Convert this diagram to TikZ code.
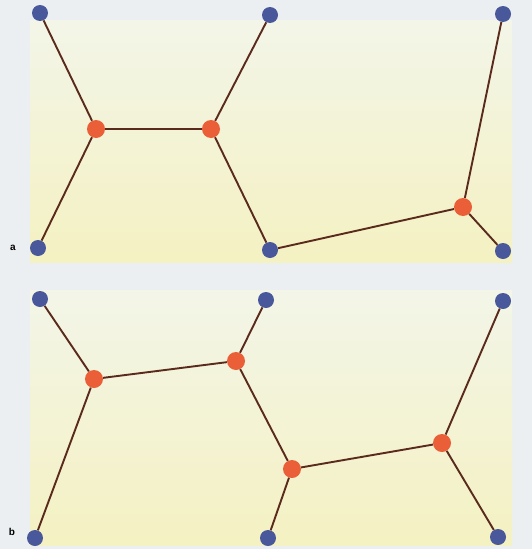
\documentclass[tikz,border=0pt]{standalone}
\usepackage{fontspec}
\setmainfont{Liberation Sans}
\definecolor{pagebg}{HTML}{ECEFF2}
\definecolor{paneltop}{HTML}{F3F5E8}
\definecolor{panelbot}{HTML}{F4F1C2}
\definecolor{termc}{HTML}{48589A}
\definecolor{steinc}{HTML}{EA5F38}
\definecolor{edgec}{HTML}{5A2A1C}
\tikzset{
  term/.style={circle, fill=termc, minimum size=16pt, inner sep=0pt},
  stein/.style={circle, fill=steinc, minimum size=18pt, inner sep=0pt},
  edge/.style={draw=edgec, line width=1.9pt},
  lbl/.style={font=\bfseries\fontsize{10}{10}\selectfont, inner sep=0pt}
}
\begin{document}
\begin{tikzpicture}[x=1pt,y=-1pt]
\useasboundingbox (0,0) rectangle (532,549);
\fill[pagebg] (0,0) rectangle (532,549);
\shade[top color=paneltop, bottom color=panelbot] (30,20) rectangle (512,262);
\shade[top color=paneltop, bottom color=panelbot] (30,290) rectangle (512,545);
% panel a
\node[term] (a1) at (40,13) {};
\node[term] (a2) at (270,15) {};
\node[term] (a3) at (503,14) {};
\node[term] (a4) at (38,248) {};
\node[term] (a5) at (270,250) {};
\node[term] (a6) at (503,251) {};
\node[stein] (as1) at (96,129) {};
\node[stein] (as2) at (211,129) {};
\node[stein] (as3) at (463,207) {};
\draw[edge] (a1) -- (as1);
\draw[edge] (as1) -- (as2);
\draw[edge] (as1) -- (a4);
\draw[edge] (as2) -- (a2);
\draw[edge] (as2) -- (a5);
\draw[edge] (a5) -- (as3);
\draw[edge] (as3) -- (a3);
\draw[edge] (as3) -- (a6);
\node[lbl] (la) at (13,248) {a};
% panel b
\node[term] (b1) at (40,299) {};
\node[term] (b2) at (266,300) {};
\node[term] (b3) at (503,301) {};
\node[term] (b4) at (35,538) {};
\node[term] (b5) at (268,538) {};
\node[term] (b6) at (498,537) {};
\node[stein] (bs1) at (94,379) {};
\node[stein] (bs2) at (236,361) {};
\node[stein] (bs3) at (292,469) {};
\node[stein] (bs4) at (442,443) {};
\draw[edge] (b1) -- (bs1);
\draw[edge] (bs1) -- (b4);
\draw[edge] (bs1) -- (bs2);
\draw[edge] (bs2) -- (b2);
\draw[edge] (bs2) -- (bs3);
\draw[edge] (bs3) -- (b5);
\draw[edge] (bs3) -- (bs4);
\draw[edge] (bs4) -- (b3);
\draw[edge] (bs4) -- (b6);
\node[lbl] (lb) at (12,532) {b};
\end{tikzpicture}
\end{document}
